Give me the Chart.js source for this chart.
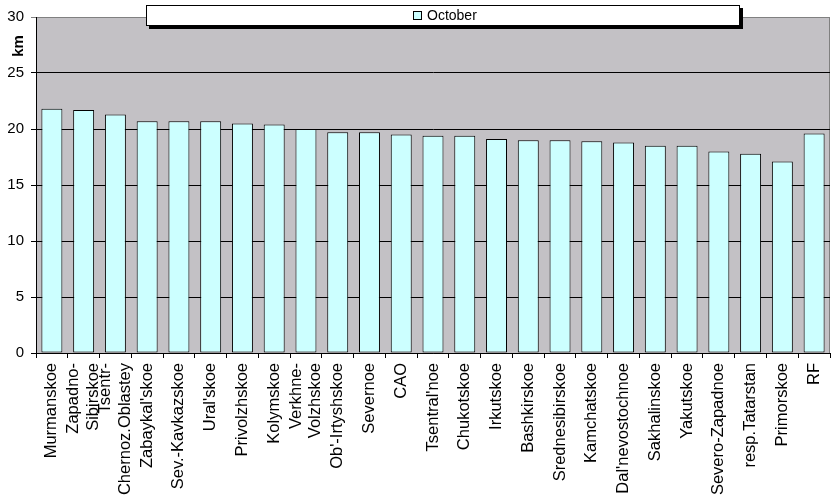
<!DOCTYPE html>
<html>
<head>
<meta charset="utf-8">
<script src="https://cdn.jsdelivr.net/npm/chart.js@4.4.1/dist/chart.umd.min.js"></script>
<style>
  html, body { margin: 0; padding: 0; background: #fff; }
  #wrap { width: 835px; height: 499px; }
</style>
</head>
<body>
<div id="wrap"><canvas id="myChart"></canvas></div>
<script>
// regions, sorted as in the source sheet
var regions = ["Murmanskoe", ["Zapadno-", "Sibirskoe"], ["Tsentr-", "Chernoz.Oblastey"], "Zabaykal'skoe",
  "Sev.-Kavkazskoe", "Ural'skoe", "Privolzhskoe", "Kolymskoe", ["Verkhne-", "Volzhskoe"], "Ob'-Irtyshskoe",
  "Severnoe", "CAO", "Tsentral'noe", "Chukotskoe", "Irkutskoe", "Bashkirskoe", "Srednesibirskoe",
  "Kamchatskoe", "Dal'nevostochnoe", "Sakhalinskoe", "Yakutskoe", "Severo-Zapadnoe", "resp.Tatarstan",
  "Primorskoe", "RF"];
var october = [21.8, 21.7, 21.3, 20.7, 20.7, 20.7, 20.5, 20.4, 20.0, 19.7, 19.7, 19.5, 19.4, 19.4,
  19.1, 19.0, 19.0, 18.9, 18.8, 18.5, 18.5, 18.0, 17.8, 17.1, 19.6];
var yMin = 0, yMax = 30, yStep = 5;
var seriesName = "October";
var yTitle = "km";

var FONT = "Arial, 'Liberation Sans', sans-serif";

// gray plot area with the thin border top/right
var plotBg = {
  id: 'plotBg',
  beforeDraw: function(chart) {
    var c = chart.ctx, a = chart.chartArea;
    c.save();
    c.fillStyle = '#c3c1c5';
    c.fillRect(a.left, a.top, a.right - a.left, a.bottom - a.top);
    c.strokeStyle = '#808080';
    c.lineWidth = 1;
    c.beginPath();
    c.moveTo(a.left, a.top + 0.5);
    c.lineTo(a.right - 0.5, a.top + 0.5);
    c.lineTo(a.right - 0.5, a.bottom);
    c.stroke();
    c.restore();

    // center two-line category labels on their tick like excel does
    var sx = chart.scales.x;
    var items = sx.getLabelItems();
    items.forEach(function(it) {
      if (Array.isArray(it.label)) {
        var lh = it.font.lineHeight;
        it.options.translation[0] -= lh * (it.label.length - 1) / 2;
      }
    });
  }
};

// excel-ish legend box + axis title
var extras = {
  id: 'extras',
  afterDraw: function(chart) {
    var c = chart.ctx;
    var ds = chart.data.datasets[0];
    c.save();
    // shadow
    c.fillStyle = '#000';
    c.fillRect(149, 8, 594, 21);
    c.fillStyle = '#fff';
    c.fillRect(146, 5, 594, 21);
    c.strokeStyle = '#000';
    c.lineWidth = 1;
    c.strokeRect(146.5, 5.5, 593, 20);
    // swatch
    c.fillStyle = ds.backgroundColor;
    c.fillRect(413, 11, 9, 9);
    c.strokeRect(413.5, 11.5, 8, 8);
    c.fillStyle = '#000';
    c.font = '14px ' + FONT;
    c.textBaseline = 'middle';
    c.textAlign = 'left';
    c.fillText(ds.label, 427, 16);

    // y axis title
    c.translate(19, 46);
    c.rotate(-Math.PI / 2);
    c.font = 'bold 15px ' + FONT;
    c.textAlign = 'center';
    c.fillText(yTitle, 0, 0);
    c.restore();
  }
};

var ctx = document.getElementById('myChart');
var myChart = new Chart(ctx, {
  type: 'bar',
  data: {
    labels: regions,
    datasets: [{
      label: seriesName,
      data: october,
      backgroundColor: '#ccffff',
      borderColor: '#000',
      borderWidth: 1,
      borderSkipped: false,
      barPercentage: 0.66,
      categoryPercentage: 1.0
    }]
  },
  options: {
    responsive: true,
    maintainAspectRatio: false,
    animation: false,
    layout: { padding: { left: 0, right: 5, top: 17, bottom: 0 } },
    plugins: {
      legend: { display: false },
      tooltip: { enabled: false }
    },
    scales: {
      x: {
        offset: true,
        grid: {
          offset: true,
          drawOnChartArea: false,
          color: '#000',
          tickLength: 5
        },
        border: { color: '#000', width: 1 },
        ticks: {
          autoSkip: false,
          maxRotation: 90,
          minRotation: 90,
          padding: 5,
          color: '#000',
          font: { family: FONT, size: 16.5, lineHeight: 1.2 }
        },
        afterFit: function(scale) {
          scale.height = 146;
          scale.paddingLeft = 0;
          scale.paddingRight = 0;
        }
      },
      y: {
        min: yMin,
        max: yMax,
        grid: {
          color: function(c) { return c.tick && c.tick.value === yMax ? '#808080' : '#000'; },
          tickLength: 5
        },
        border: { color: '#000', width: 1 },
        ticks: {
          stepSize: yStep,
          padding: 7,
          color: '#000',
          font: { family: FONT, size: 15 }
        },
        afterFit: function(scale) { scale.width = 36; }
      }
    }
  },
  plugins: [plotBg, extras]
});
</script>
</body>
</html>
